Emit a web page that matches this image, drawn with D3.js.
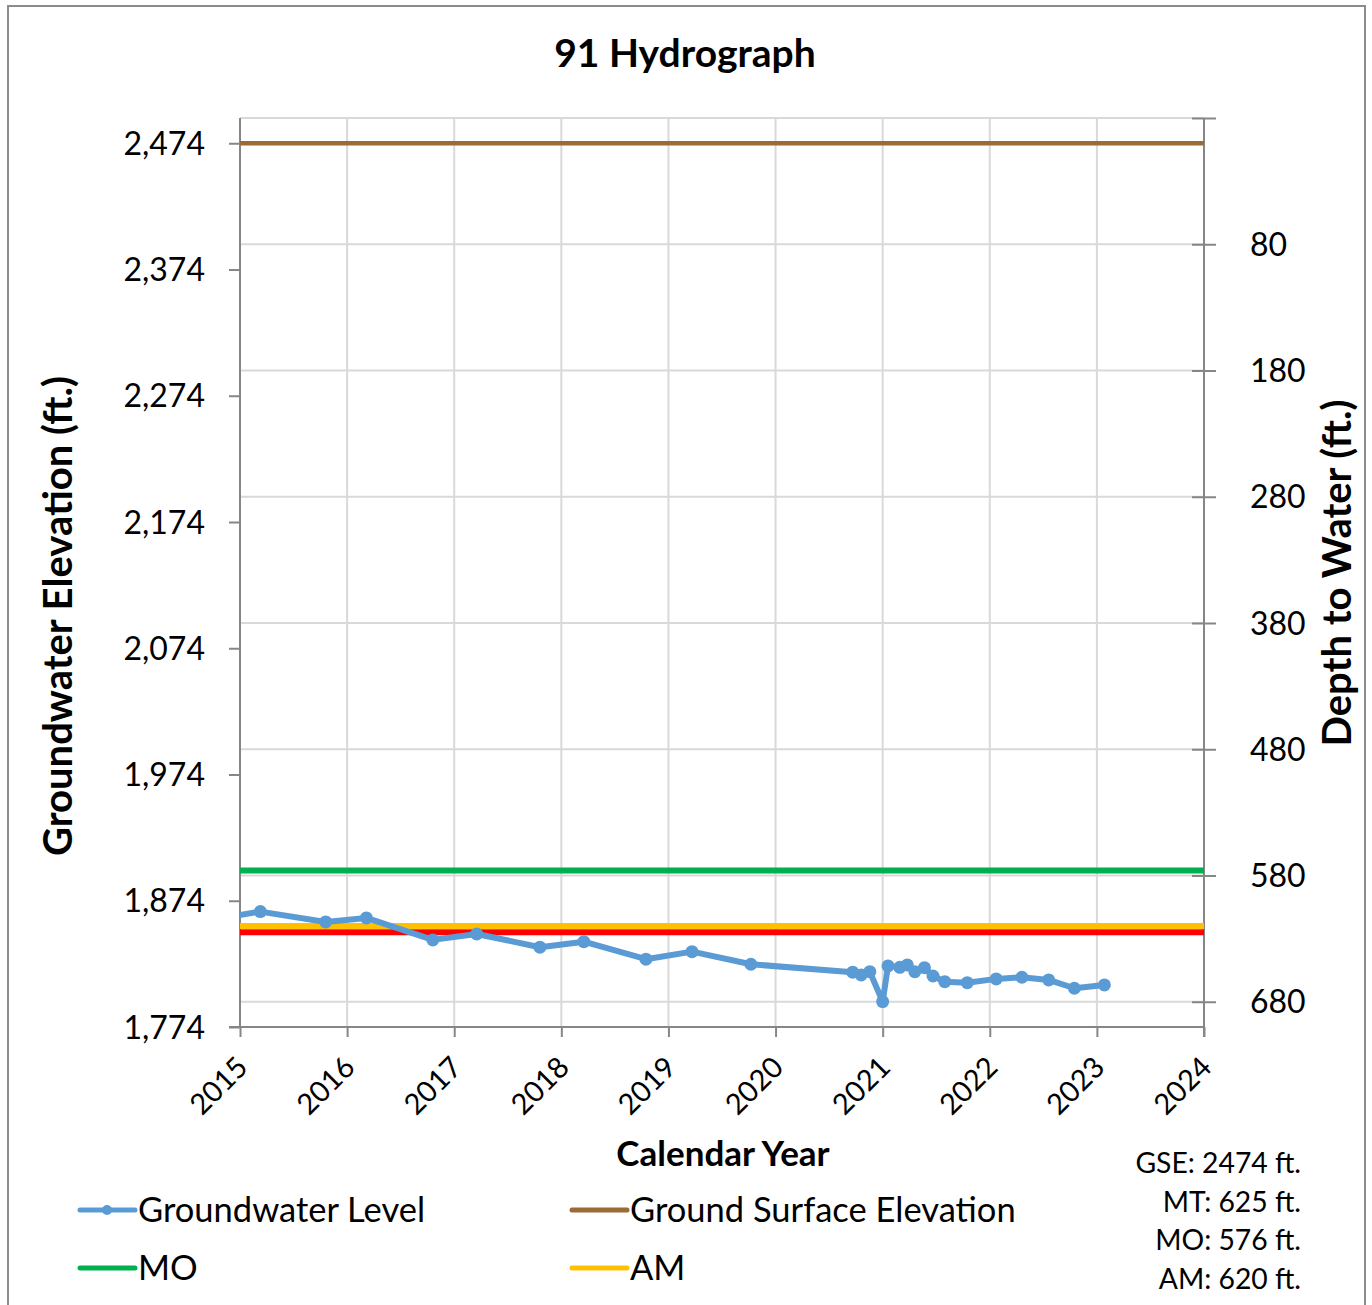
<!DOCTYPE html>
<html>
<head>
<meta charset="utf-8">
<script src="https://cdn.jsdelivr.net/npm/d3@7"></script>
<style>
  body { margin: 0; background: #fff; }
  svg { font-family: Lato, "Open Sans", sans-serif; }
</style>
</head>
<body>
<svg id="chart" width="1372" height="1305"></svg>
<script>
var width = 1372;
var height = 1305;

// groundwater level readings (decimal year, elevation ft)
var gwYears = [2014.8, 2015.19, 2015.80, 2016.18, 2016.80, 2017.21, 2017.80, 2018.21, 2018.79,
  2019.22, 2019.77, 2020.72, 2020.80, 2020.88, 2021.00, 2021.05, 2021.16, 2021.23, 2021.30,
  2021.39, 2021.47, 2021.58, 2021.79, 2022.06, 2022.30, 2022.55, 2022.79, 2023.07];
var gwElev = [1860.0, 1865.4, 1857.2, 1860.4, 1843.0, 1847.7, 1837.2, 1841.6, 1827.7,
  1833.7, 1823.7, 1817.4, 1815.2, 1817.8, 1794.1, 1822.4, 1821.3, 1823.2, 1817.8,
  1821.0, 1814.4, 1809.9, 1809.1, 1812.1, 1813.4, 1811.3, 1804.7, 1807.3];

var GSE = 2474;
var thresholdNames = ["MT", "MO", "AM"];
var thresholdDepths = [625, 576, 620];

var yearTicks = [2015, 2016, 2017, 2018, 2019, 2020, 2021, 2022, 2023, 2024];
var elevTicks = [1774, 1874, 1974, 2074, 2174, 2274, 2374, 2474];
var depthTicks = [-20, 80, 180, 280, 380, 480, 580, 680];

var legendNames = ["Groundwater Level", "Ground Surface Elevation", "MO", "AM"];
var noteLabels = ["GSE: 2474 ft.", "MT: 625 ft.", "MO: 576 ft.", "AM: 620 ft."];

var colors = { gw: "#5b9bd5", gse: "#9c6a35", MT: "#ff0000", MO: "#00b050", AM: "#ffc000" };

var plot = { left: 240, right: 1204, top: 118, bottom: 1027 };

var svg = d3.select("#chart");

var x = d3.scaleLinear().domain([2015, 2024]).range([plot.left, plot.right]);
var y = d3.scaleLinear().domain([1774, 2494]).range([plot.bottom, plot.top]);
var yDepth = d3.scaleLinear().domain([-20, 700]).range([plot.top, plot.bottom]);

// outer frame
svg.append("rect")
  .attr("x", 8).attr("y", 6)
  .attr("width", 1357).attr("height", 1310)
  .attr("fill", "none").attr("stroke", "#8c8c8c").attr("stroke-width", 2);

// gridlines
svg.append("g").selectAll("line")
  .data(depthTicks)
  .enter().append("line")
  .attr("x1", plot.left).attr("x2", plot.right)
  .attr("y1", (d) => yDepth(d)).attr("y2", (d) => yDepth(d))
  .attr("stroke", "#d9d9d9").attr("stroke-width", 2);

svg.append("g").selectAll("line")
  .data(yearTicks.slice(1))
  .enter().append("line")
  .attr("x1", (d) => x(d)).attr("x2", (d) => x(d))
  .attr("y1", plot.top).attr("y2", plot.bottom)
  .attr("stroke", "#d9d9d9").attr("stroke-width", 2);

// axes
var axisColor = "#868686";
function styleAxis(g) {
  g.selectAll("path, line").attr("stroke", axisColor).attr("stroke-width", 2);
  g.selectAll("text").attr("fill", "#000").style("font-family", "Lato, sans-serif");
}

var leftAxis = svg.append("g")
  .attr("transform", `translate(${plot.left},0)`)
  .call(d3.axisLeft(y).tickValues(elevTicks).tickFormat(d3.format(",")).tickSize(11).tickSizeOuter(0).tickPadding(24));
styleAxis(leftAxis);
leftAxis.select(".domain").remove();
leftAxis.append("line").attr("x1", 0).attr("x2", 0).attr("y1", plot.top).attr("y2", plot.bottom)
  .attr("stroke", axisColor).attr("stroke-width", 2);
leftAxis.selectAll("text").style("font-size", "32px").attr("dy", "0.35em");

var rightAxis = svg.append("g")
  .attr("transform", `translate(${plot.right},0)`)
  .call(d3.axisRight(yDepth).tickValues(depthTicks).tickFormat((d) => (d < 0 ? "" : d)).tickSize(12).tickSizeOuter(0).tickPadding(34));
styleAxis(rightAxis);
rightAxis.select(".domain").remove();
rightAxis.selectAll(".tick line").attr("x1", -12);
rightAxis.append("line").attr("x1", 0).attr("x2", 0).attr("y1", plot.top).attr("y2", plot.bottom + 10)
  .attr("stroke", axisColor).attr("stroke-width", 2);
rightAxis.selectAll("text").style("font-size", "32px").attr("dy", "0.35em");

var bottomAxis = svg.append("g")
  .attr("transform", `translate(0,${plot.bottom})`)
  .call(d3.axisBottom(x).tickValues(yearTicks).tickFormat(d3.format("d")).tickSize(10).tickSizeOuter(0));
styleAxis(bottomAxis);
bottomAxis.select(".domain").remove();
bottomAxis.append("line").attr("x1", plot.left - 11).attr("x2", plot.right).attr("y1", 0).attr("y2", 0)
  .attr("stroke", axisColor).attr("stroke-width", 2);
bottomAxis.selectAll("text")
  .style("font-size", "29px")
  .attr("text-anchor", "end")
  .attr("dy", null)
  .attr("y", 0)
  .attr("transform", "translate(9,42) rotate(-45)");

// ground surface elevation line
svg.append("line")
  .attr("x1", plot.left).attr("x2", plot.right)
  .attr("y1", y(GSE)).attr("y2", y(GSE))
  .attr("stroke", colors.gse).attr("stroke-width", 4.5);

// thresholds (elevation = GSE - depth)
svg.append("g").selectAll("line")
  .data(thresholdNames)
  .enter().append("line")
  .attr("x1", plot.left).attr("x2", plot.right)
  .attr("y1", (d, i) => y(GSE - thresholdDepths[i]))
  .attr("y2", (d, i) => y(GSE - thresholdDepths[i]))
  .attr("stroke", (d) => colors[d]).attr("stroke-width", 6);

// groundwater level series
svg.append("clipPath").attr("id", "plotClip")
  .append("rect")
  .attr("x", plot.left).attr("y", plot.top)
  .attr("width", plot.right - plot.left).attr("height", plot.bottom - plot.top);

var gwData = gwYears.map((d, i) => ({ year: d, elev: gwElev[i] }));
var gw = svg.append("g").attr("clip-path", "url(#plotClip)");
gw.append("path")
  .datum(gwData)
  .attr("fill", "none")
  .attr("stroke", colors.gw)
  .attr("stroke-width", 6)
  .attr("stroke-linejoin", "round")
  .attr("d", d3.line().x((d) => x(d.year)).y((d) => y(d.elev)));
gw.selectAll("circle")
  .data(gwData)
  .enter().append("circle")
  .attr("cx", (d) => x(d.year))
  .attr("cy", (d) => y(d.elev))
  .attr("r", 6.5)
  .attr("fill", colors.gw);

// titles
svg.append("text")
  .attr("x", 685).attr("y", 67)
  .attr("text-anchor", "middle")
  .style("font-size", "39px").style("font-weight", "bold")
  .text("91 Hydrograph");

svg.append("text")
  .attr("transform", "translate(72,616) rotate(-90)")
  .attr("text-anchor", "middle")
  .style("font-size", "40px").style("font-weight", "bold")
  .text("Groundwater Elevation (ft.)");

svg.append("text")
  .attr("transform", "translate(1351,573) rotate(-90)")
  .attr("text-anchor", "middle")
  .style("font-size", "40px").style("font-weight", "bold")
  .text("Depth to Water (ft.)");

svg.append("text")
  .attr("x", 723).attr("y", 1166)
  .attr("text-anchor", "middle")
  .style("font-size", "35px").style("font-weight", "bold")
  .text("Calendar Year");

// legend
var legendPos = [[80, 1210], [572, 1210], [80, 1268], [572, 1268]];
var legendColors = [colors.gw, colors.gse, colors.MO, colors.AM];
var legend = svg.append("g").selectAll("g")
  .data(legendNames)
  .enter().append("g")
  .attr("transform", (d, i) => `translate(${legendPos[i][0]},${legendPos[i][1]})`);
legend.append("line")
  .attr("x1", 0).attr("x2", 55)
  .attr("stroke", (d, i) => legendColors[i])
  .attr("stroke-width", 5).attr("stroke-linecap", "round");
legend.filter((d, i) => i === 0).append("circle")
  .attr("cx", 27).attr("r", 5).attr("fill", colors.gw);
legend.append("text")
  .attr("x", 58).attr("dy", "0.35em")
  .style("font-size", "34.5px")
  .text((d) => d);

// notes
svg.append("g").selectAll("text")
  .data(noteLabels)
  .enter().append("text")
  .attr("x", 1301)
  .attr("y", (d, i) => 1173 + i * 38.7)
  .attr("text-anchor", "end")
  .style("font-size", "28.3px")
  .text((d) => d);
</script>
</body>
</html>
